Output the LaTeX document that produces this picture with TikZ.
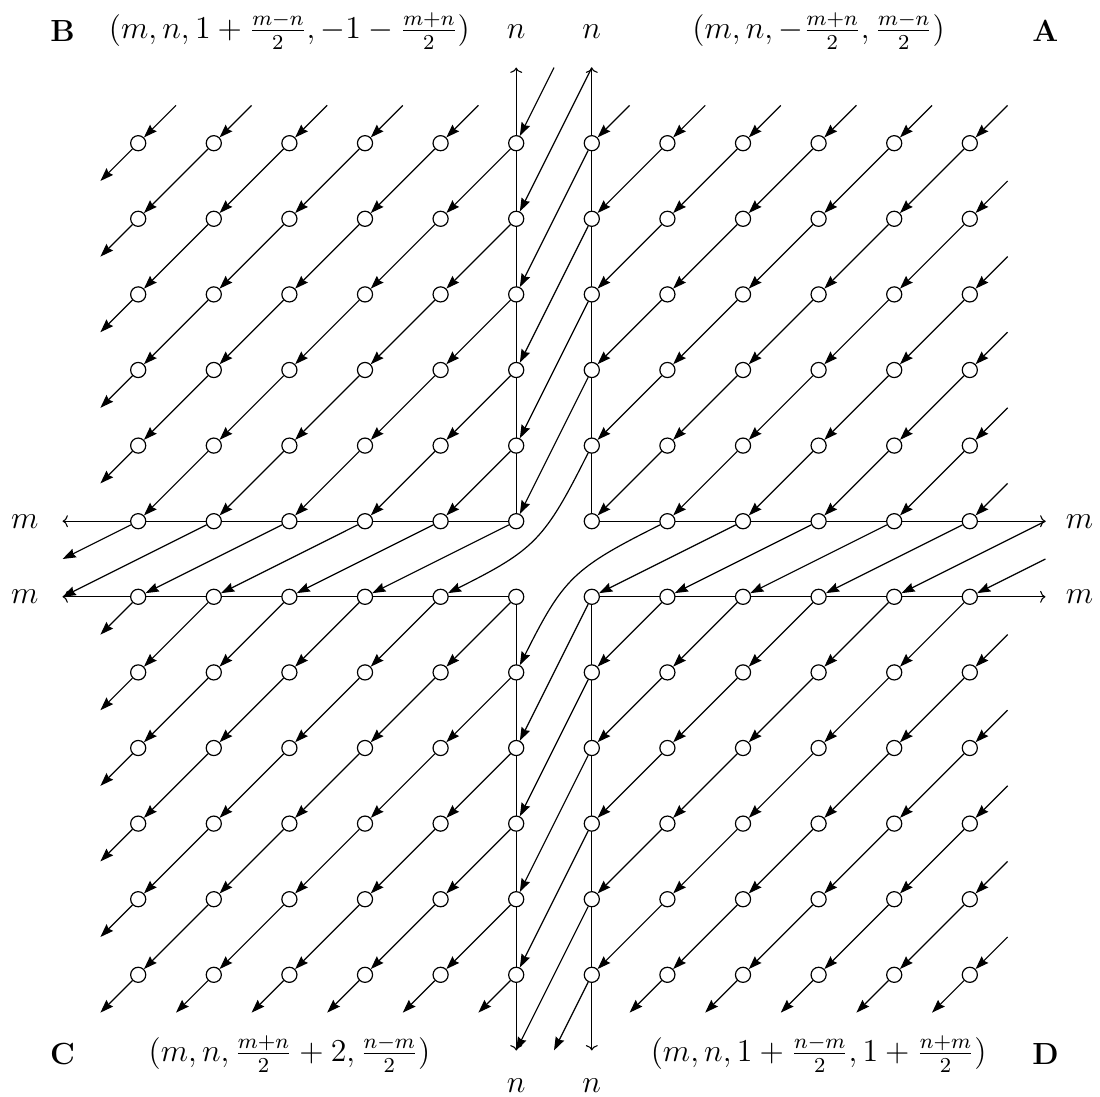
\documentclass[tikz,border=0pt]{standalone}
\usetikzlibrary{arrows.meta,backgrounds}
\begin{document}
\begin{tikzpicture}[x=1cm,y=1cm,line width=0.45pt,
  pt/.style={circle,draw,fill=white,inner sep=0pt,minimum size=0.2cm},
  flow/.style={-{Stealth[length=5pt,width=3.5pt,inset=0.6pt]}},
  axisline/.style={-{To[length=2pt,width=4.5pt]}},
  lab/.style={font=\fontsize{11.5}{14}\selectfont,inner sep=1pt}
]
\useasboundingbox (-7.328,-7.116) rectangle (7.222,7.394);

% lattice points
\foreach \i in {1,...,6}{\foreach \j in {1,...,6}{
  \node[pt] (A-\i-\j) at ({\i-0.5},{\j-0.5}) {};
  \node[pt] (B-\i-\j) at ({-(\i-0.5)},{\j-0.5}) {};
  \node[pt] (C-\i-\j) at ({-(\i-0.5)},{-(\j-0.5)}) {};
  \node[pt] (D-\i-\j) at ({\i-0.5},{-(\j-0.5)}) {};
}}

% axis ends
\coordinate (eBl) at (-6.5,0.5);
\coordinate (eBu) at (-0.5,6.5);
\coordinate (eAr) at (6.5,0.5);
\coordinate (eAu) at (0.5,6.5);
\coordinate (eCl) at (-6.5,-0.5);
\coordinate (eCd) at (-0.5,-6.5);
\coordinate (eDr) at (6.5,-0.5);
\coordinate (eDd) at (0.5,-6.5);

\begin{scope}[on background layer]
  \draw[axisline] (B-1-1.center) -- (eBl);
  \draw[axisline] (B-1-1.center) -- (eBu);
  \draw[axisline] (A-1-1.center) -- (eAr);
  \draw[axisline] (A-1-1.center) -- (eAu);
  \draw[axisline] (C-1-1.center) -- (eCl);
  \draw[axisline] (C-1-1.center) -- (eCd);
  \draw[axisline] (D-1-1.center) -- (eDr);
  \draw[axisline] (D-1-1.center) -- (eDd);
\end{scope}

% bulk arrows
\foreach \i in {1,...,6}{\foreach \j in {1,...,6}{
  \pgfmathtruncatemacro{\ip}{\i+1}
  \pgfmathtruncatemacro{\im}{\i-1}
  \pgfmathtruncatemacro{\jp}{\j+1}
  \pgfmathtruncatemacro{\jm}{\j-1}
  \ifnum\i>1 \ifnum\j>1 \draw[flow] (A-\i-\j) -- (A-\im-\jm); \fi\fi
  \ifnum\i<6 \ifnum\j>1 \draw[flow] (B-\i-\j) -- (B-\ip-\jm); \fi\fi
  \ifnum\i<6 \ifnum\j<6 \draw[flow] (C-\i-\j) -- (C-\ip-\jp); \fi\fi
  \ifnum\i>1 \ifnum\j<6 \draw[flow] (D-\i-\j) -- (D-\im-\jp); \fi\fi
}}

% arrows crossing the axes
\foreach \k in {3,...,6}{
  \pgfmathtruncatemacro{\km}{\k-2}
  \draw[flow] (A-1-\k) -- (B-1-\km);
  \draw[flow] (A-\k-1) -- (D-\km-1);
}
\foreach \k in {1,...,4}{
  \pgfmathtruncatemacro{\kp}{\k+2}
  \draw[flow] (B-\k-1) -- (C-\kp-1);
  \draw[flow] (D-1-\k) -- (C-1-\kp);
}
\draw[flow] (A-1-2) to[out=243.4,in=26.6,looseness=1.25] (C-2-1);
\draw[flow] (A-2-1) to[out=206.6,in=63.4,looseness=1.25] (C-1-2);

% arrows to and from the axis ends
\coordinate (hB) at (-6.5,0);
\coordinate (hD) at (0,-6.5);
\coordinate (hA) at (0,6.5);
\coordinate (hR) at (6.5,0);
\draw[flow] (B-5-1) -- (eCl);
\draw[flow] (B-6-1) -- (hB);
\draw[flow] (D-1-5) -- (eCd);
\draw[flow] (D-1-6) -- (hD);
\draw[flow] (eAu) -- (B-1-5);
\draw[flow] (hA) -- (B-1-6);
\draw[flow] (eAr) -- (D-5-1);
\draw[flow] (hR) -- (D-6-1);

% half stubs at the border
\foreach \i in {1,...,6}{
  \coordinate (sAt-\i) at (\i,6);
  \draw[flow] (sAt-\i) -- (A-\i-6);
}
\foreach \j in {1,...,5}{
  \coordinate (sAr-\j) at (6,\j);
  \draw[flow] (sAr-\j) -- (A-6-\j);
}
\foreach \i in {2,...,6}{
  \coordinate (sBt-\i) at ({-(\i-1)},6);
  \draw[flow] (sBt-\i) -- (B-\i-6);
}
\foreach \j in {2,...,6}{
  \coordinate (sBl-\j) at (-6,{\j-1});
  \draw[flow] (B-6-\j) -- (sBl-\j);
}
\foreach \j in {1,...,6}{
  \coordinate (sCl-\j) at (-6,{-\j});
  \draw[flow] (C-6-\j) -- (sCl-\j);
}
\foreach \i in {1,...,5}{
  \coordinate (sCb-\i) at ({-\i},-6);
  \draw[flow] (C-\i-6) -- (sCb-\i);
}
\foreach \i in {2,...,6}{
  \coordinate (sDb-\i) at ({\i-1},-6);
  \draw[flow] (D-\i-6) -- (sDb-\i);
}
\foreach \j in {2,...,6}{
  \coordinate (sDr-\j) at (6,{-(\j-1)});
  \draw[flow] (sDr-\j) -- (D-6-\j);
}

% labels
\node[lab] (lB) at (-6.5,6.98) {\textbf{B}};
\node[lab] (fB) at (-3.5,6.98) {$(m,n,1+\frac{m-n}{2},-1-\frac{m+n}{2})$};
\node[lab] (nBu) at (-0.5,6.98) {$n$};
\node[lab] (nAu) at (0.5,6.98) {$n$};
\node[lab] (fA) at (3.5,6.98) {$(m,n,-\frac{m+n}{2},\frac{m-n}{2})$};
\node[lab] (lA) at (6.5,6.98) {\textbf{A}};
\node[lab] (mBl) at (-7.0,0.5) {$m$};
\node[lab] (mCl) at (-7.0,-0.5) {$m$};
\node[lab] (mAr) at (6.95,0.5) {$m$};
\node[lab] (mDr) at (6.95,-0.5) {$m$};
\node[lab] (lC) at (-6.5,-6.55) {\textbf{C}};
\node[lab] (fC) at (-3.5,-6.55) {$(m,n,\frac{m+n}{2}+2,\frac{n-m}{2})$};
\node[lab] (fD) at (3.5,-6.55) {$(m,n,1+\frac{n-m}{2},1+\frac{n+m}{2})$};
\node[lab] (lD) at (6.5,-6.55) {\textbf{D}};
\node[lab] (nCd) at (-0.5,-6.97) {$n$};
\node[lab] (nDd) at (0.5,-6.97) {$n$};
\end{tikzpicture}
\end{document}
